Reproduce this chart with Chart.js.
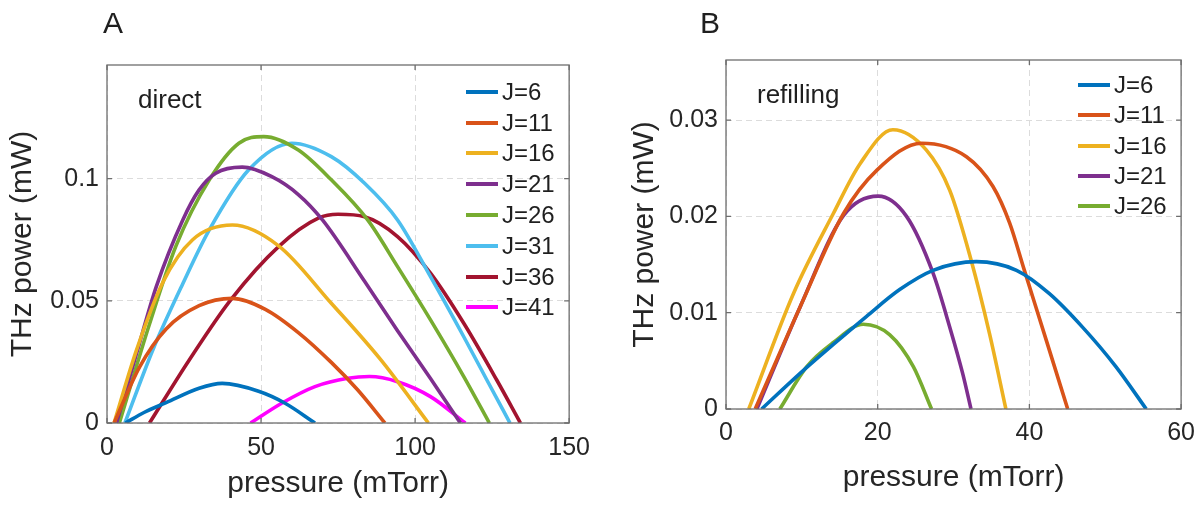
<!DOCTYPE html>
<html>
<head>
<meta charset="utf-8">
<script src="https://cdn.jsdelivr.net/npm/chart.js@4.4.1/dist/chart.umd.min.js"></script>
<style>
  html,body{margin:0;padding:0;background:#fff;}
  body{width:1204px;height:506px;position:relative;overflow:hidden;font-family:"Liberation Sans",Arial,Helvetica,sans-serif;color:#1f1f1f;}
  canvas{position:absolute;top:0;display:block;}
  #ca{left:0;}
  #cb{left:600px;}
  .letter{position:absolute;font-size:30px;line-height:30px;}
  .note{position:absolute;font-size:26px;line-height:26px;white-space:nowrap;}
  .legend{position:absolute;font-size:24px;line-height:24px;}
  .legend .row{position:absolute;left:0;height:24px;display:flex;align-items:center;white-space:nowrap;}
  .legend .sw{display:inline-block;width:32px;height:4px;margin-right:4px;}
</style>
</head>
<body>
<canvas id="ca" width="600" height="506"></canvas>
<canvas id="cb" width="604" height="506"></canvas>
<div class="letter" style="left:103px;top:8px;">A</div>
<div class="letter" style="left:700px;top:8px;">B</div>
<div class="note" style="left:138px;top:86px;">direct</div>
<div class="note" style="left:757px;top:81px;">refilling</div>
<div class="legend" id="lega" style="left:466px;top:0;"></div>
<div class="legend" id="legb" style="left:1078px;top:0;"></div>
<script>
// ---------- data ----------
const xTitle = 'pressure (mTorr)';
const yTitle = 'THz power (mW)';

// Panel A: direct
const labelsA = ['J=6','J=11','J=16','J=21','J=26','J=31','J=36','J=41'];
const colorsA = ['#0072BD','#D95319','#EDB120','#7E2F8E','#77AC30','#4DBEEE','#A2142F','#FF00FF'];
const directJ6  = [[6,0],[12,0.0043],[19.2,0.0083],[29.9,0.0142],[37.4,0.0162],[49.2,0.0130],[57.8,0.0081],[67.5,0]];
const directJ11 = [[2.3,0],[10.6,0.023],[19.2,0.0385],[29.9,0.0480],[40.7,0.051],[51.4,0.0465],[62.1,0.0370],[72.8,0.0248],[81.4,0.0135],[90.2,0]];
const directJ16 = [[2.3,0],[9.6,0.0299],[18.1,0.0575],[27.8,0.0750],[40.7,0.081],[55.7,0.0725],[72.8,0.049],[88.9,0.0258],[104.3,0]];
const directJ21 = [[3.1,0],[9.6,0.0285],[16,0.0558],[24.6,0.0831],[29.9,0.0954],[35.3,0.1022],[43.9,0.1047],[53.5,0.1008],[62.1,0.0935],[70,0.0830],[83.6,0.0580],[94.3,0.0378],[105,0.0182],[114.7,0]];
const directJ26 = [[4,0],[13.8,0.0405],[22.4,0.0725],[33.2,0.0995],[42.8,0.1145],[50.9,0.1172],[62.1,0.1117],[72.8,0.0995],[84.6,0.0831],[94.3,0.064],[105,0.0422],[115.8,0.019],[124.1,0]];
const directJ31 = [[5.8,0],[14.9,0.030],[24.6,0.057],[33.2,0.079],[46,0.1036],[60,0.1145],[72.8,0.109],[83.6,0.0981],[94.3,0.0831],[105,0.0599],[115.8,0.0353],[123.3,0.0176],[130.8,0]];
const directJ36 = [[13.8,0],[26.7,0.0258],[40.1,0.0503],[55.7,0.0722],[68.6,0.0838],[75,0.0854],[83.6,0.0844],[94.3,0.0763],[105,0.0613],[115.8,0.0408],[126.5,0.0176],[134.2,0]];
const directJ41 = [[46.6,0],[56.7,0.0081],[67.5,0.0149],[78.2,0.0183],[85.2,0.019],[94.3,0.0169],[105,0.0108],[116.3,0]];
const seriesA = [directJ6,directJ11,directJ16,directJ21,directJ26,directJ31,directJ36,directJ41];
const xTicksA = [0,50,100,150];
const yTicksA = [0,0.05,0.1];

// Panel B: refilling
const labelsB = ['J=6','J=11','J=16','J=21','J=26'];
const colorsB = ['#0072BD','#D95319','#EDB120','#7E2F8E','#77AC30'];
const refillJ6  = [[4.7,0],[9.77,0.0037],[14.15,0.0067],[18.5,0.0096],[22.9,0.0124],[27.3,0.0144],[33,0.0153],[38.3,0.0144],[42.6,0.012],[47,0.0085],[51.4,0.0044],[55.4,0]];
const refillJ11 = [[3.85,0],[9.77,0.0106],[15.5,0.0203],[19.9,0.0248],[25.8,0.0276],[31.7,0.0262],[35.2,0.0231],[37.4,0.0193],[39.3,0.0145],[42.2,0.0072],[45.05,0]];
const refillJ16 = [[3,0],[8.9,0.012],[14.15,0.0203],[17.7,0.0255],[22,0.029],[26.4,0.0269],[29.5,0.0227],[32.3,0.0155],[34.75,0.0078],[36.9,0]];
const refillJ21 = [[4.07,0],[9.77,0.0106],[15.5,0.0201],[20.07,0.0221],[23.8,0.02],[27.3,0.0141],[29.5,0.0085],[31.2,0.0037],[32.3,0]];
const refillJ26 = [[7.1,0],[10.65,0.0044],[14.15,0.0069],[18.1,0.0088],[21.6,0.0077],[24.7,0.0044],[27.1,0]];
const seriesB = [refillJ6,refillJ11,refillJ16,refillJ21,refillJ26];
const xTicksB = [0,20,40,60];
const yTicksB = [0,0.01,0.02,0.03];

// ---------- rendering ----------
const FONT = '"Liberation Sans", Arial, Helvetica, sans-serif';
const TXT = '#262626';

const boxPlugin = {
  id: 'matlabBox',
  afterDatasetsDraw(chart) {
    const {ctx, chartArea: a, scales: {x, y}} = chart;
    ctx.save();
    ctx.strokeStyle = '#6e6e6e';
    ctx.lineWidth = 1.3;
    ctx.strokeRect(a.left, a.top, a.right - a.left, a.bottom - a.top);
    const L = 5;
    ctx.beginPath();
    x.ticks.forEach(t => {
      const p = x.getPixelForValue(t.value);
      ctx.moveTo(p, a.bottom); ctx.lineTo(p, a.bottom - L);
      ctx.moveTo(p, a.top); ctx.lineTo(p, a.top + L);
    });
    y.ticks.forEach(t => {
      const p = y.getPixelForValue(t.value);
      ctx.moveTo(a.left, p); ctx.lineTo(a.left + L, p);
      ctx.moveTo(a.right, p); ctx.lineTo(a.right - L, p);
    });
    ctx.stroke();
    ctx.restore();
  }
};

function fmt(v) { return String(parseFloat(v.toFixed(4))); }

function build(id, series, labels, colors, xMax, yMax, xTicks, yTicks, g) {
  const datasets = series.map((s, i) => ({
    label: labels[i],
    data: s.map(p => ({x: p[0], y: p[1]})),
    borderColor: colors[i],
    backgroundColor: colors[i],
    borderWidth: 3.6,
    pointRadius: 0,
    fill: false,
    cubicInterpolationMode: 'monotone',
    borderCapStyle: 'butt',
    borderJoinStyle: 'round'
  }));
  return new Chart(document.getElementById(id), {
    type: 'line',
    data: {datasets},
    plugins: [boxPlugin],
    options: {
      responsive: false,
      animation: false,
      devicePixelRatio: 1,
      layout: {padding: {left: 0, top: g.top, right: g.right, bottom: 0}},
      plugins: {legend: {display: false}, tooltip: {enabled: false}},
      scales: {
        x: {
          type: 'linear', min: 0, max: xMax,
          afterBuildTicks: s => { s.ticks = xTicks.map(v => ({value: v})); },
          afterFit: s => { s.height = g.xH; },
          ticks: {font: {family: FONT, size: 25}, color: TXT, padding: g.xTickPad, maxRotation: 0, autoSkip: false, callback: v => fmt(v)},
          grid: {color: '#dcdcdc', lineWidth: 1, drawTicks: false},
          border: {display: false, dash: [6, 4]},
          title: {display: true, text: xTitle, font: {family: FONT, size: 30}, color: TXT, padding: {top: 0, bottom: g.xTitlePad}}
        },
        y: {
          type: 'linear', min: 0, max: yMax,
          afterBuildTicks: s => { s.ticks = yTicks.map(v => ({value: v})); },
          afterFit: s => { s.width = g.yW; },
          ticks: {font: {family: FONT, size: 25}, color: TXT, padding: 8, autoSkip: false, callback: v => fmt(v)},
          grid: {color: '#dcdcdc', lineWidth: 1, drawTicks: false},
          border: {display: false, dash: [6, 4]},
          title: {display: true, text: yTitle, font: {family: FONT, size: 30}, color: TXT, padding: {top: g.yTitlePad, bottom: 0}}
        }
      }
    }
  });
}

build('ca', seriesA, labelsA, colorsA, 150, 0.1465, xTicksA, yTicksA,
  {top: 65, right: 27, xH: 83, yW: 107, xTickPad: 10, xTitlePad: 4, yTitlePad: 5});
build('cb', seriesB, labelsB, colorsB, 60, 0.03624, xTicksB, yTicksB,
  {top: 60, right: 22, xH: 97, yW: 126, xTickPad: 9, xTitlePad: 10, yTitlePad: 27});

function legend(id, labels, colors, firstCenter, step) {
  const el = document.getElementById(id);
  labels.forEach((lab, i) => {
    const row = document.createElement('div');
    row.className = 'row';
    row.style.top = (firstCenter + i * step - 12) + 'px';
    const sw = document.createElement('span');
    sw.className = 'sw';
    sw.style.background = colors[i];
    const t = document.createElement('span');
    t.textContent = lab;
    row.appendChild(sw); row.appendChild(t);
    el.appendChild(row);
  });
}
legend('lega', labelsA, colorsA, 91.7, 30.8);
legend('legb', labelsB, colorsB, 85, 30.3);
</script>
</body>
</html>
